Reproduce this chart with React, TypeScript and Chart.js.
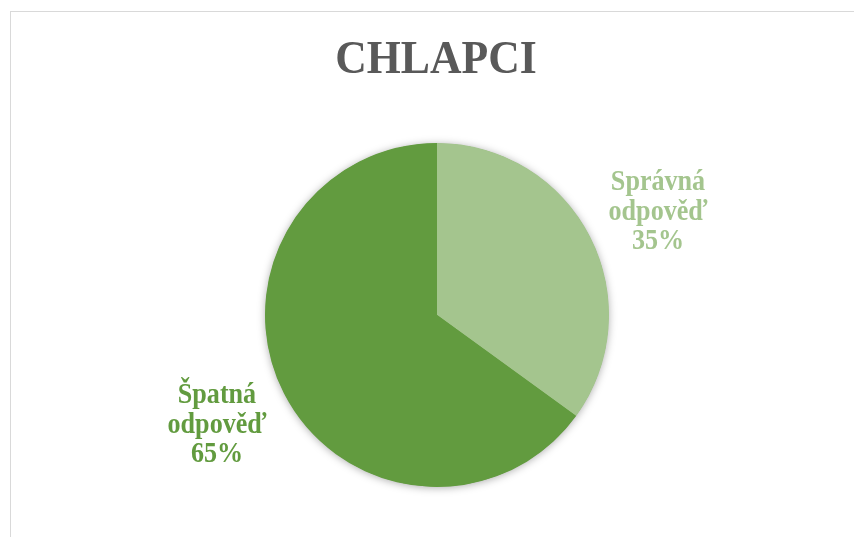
import React, { useEffect, useRef } from "react";
import { Chart, registerables } from "chart.js";

Chart.register(...registerables);

const title = "CHLAPCI";
const categories = ["Správná odpověď", "Špatná odpověď"];
const values = [35, 65];
const sliceColors = ["#a4c58e", "#629b3f"];
const labelLines = [
  ["Správná", "odpověď", "35%"],
  ["Špatná", "odpověď", "65%"],
];
// label anchor positions (center x, first baseline y) in pixels
const labelAnchors = [
  [658, 190],
  [217, 403],
];

const FONT = '"Liberation Serif", "Times New Roman", serif';

function drawScaledText(ctx: any, text: string, cx: number, y: number, sx: number) {
  ctx.save();
  ctx.translate(cx, y);
  ctx.scale(sx, 1);
  ctx.fillText(text, 0, 0);
  ctx.restore();
}

const decorPlugin = {
  id: "decor",
  beforeDraw(chart: any) {
    const ctx = chart.ctx;
    ctx.save();
    ctx.fillStyle = "#ffffff";
    ctx.fillRect(0, 0, chart.width, chart.height);
    ctx.strokeStyle = "#d9d9d9";
    ctx.lineWidth = 1;
    ctx.strokeRect(10.5, 11.5, 1000, 1000);
    ctx.fillStyle = "#595959";
    ctx.font = `bold 47px ${FONT}`;
    ctx.textAlign = "center";
    ctx.textBaseline = "alphabetic";
    drawScaledText(ctx, title, 436, 73, 0.93);
    ctx.restore();
  },
  beforeDatasetsDraw(chart: any) {
    const meta = chart.getDatasetMeta(0);
    const arc = meta.data[0];
    if (!arc) return;
    const ctx = chart.ctx;
    ctx.save();
    ctx.shadowColor = "rgba(0,0,0,0.35)";
    ctx.shadowBlur = 9;
    ctx.shadowOffsetX = 0;
    ctx.shadowOffsetY = 1;
    ctx.fillStyle = "#629b3f";
    ctx.beginPath();
    ctx.arc(arc.x, arc.y, arc.outerRadius - 0.5, 0, Math.PI * 2);
    ctx.fill();
    ctx.restore();
  },
  afterDatasetsDraw(chart: any) {
    const ctx = chart.ctx;
    ctx.save();
    ctx.font = `bold 29px ${FONT}`;
    ctx.textAlign = "center";
    ctx.textBaseline = "alphabetic";
    labelLines.forEach((lines, i) => {
      ctx.fillStyle = sliceColors[i];
      const [cx, y0] = labelAnchors[i];
      lines.forEach((t, j) => drawScaledText(ctx, t, cx, y0 + j * 29.5, 0.9));
    });
    ctx.restore();
  },
};

export default function App() {
  const ref = useRef<HTMLCanvasElement>(null);
  useEffect(() => {
    if (!ref.current) return;
    const chart = new Chart(ref.current, {
      type: "pie",
      data: {
        labels: categories,
        datasets: [
          {
            data: values,
            backgroundColor: sliceColors,
            borderWidth: 0,
          },
        ],
      },
      options: {
        animation: false,
        responsive: false,
        layout: { padding: { left: 265, right: 245, top: 143, bottom: 50 } },
        plugins: {
          legend: { display: false },
          tooltip: { enabled: false },
          title: { display: false },
        },
      },
      plugins: [decorPlugin],
    });
    return () => chart.destroy();
  }, []);
  return (
    <div style={{ position: "fixed", left: 0, top: 0, width: 854, height: 537, overflow: "hidden", background: "#fff" }}>
      <canvas ref={ref} width={854} height={537} style={{ display: "block" }} />
    </div>
  );
}
